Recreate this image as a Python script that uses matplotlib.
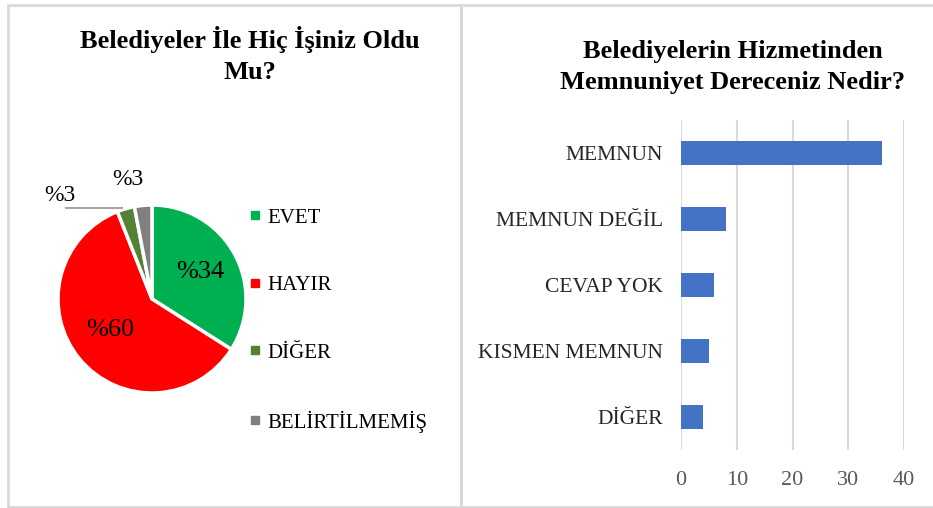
import matplotlib
matplotlib.use("Agg")
import matplotlib.pyplot as plt
from matplotlib.patches import Rectangle
from matplotlib.lines import Line2D

plt.rcParams["font.family"] = ["Liberation Serif", "DejaVu Serif"]

# Pie: "Belediyeler İle Hiç İşiniz Oldu Mu?"
pie_labels = ["EVET", "HAYIR", "DİĞER", "BELİRTİLMEMİŞ"]
pie_values = [34, 60, 3, 3]
pie_colors = ["#00B050", "#FF0000", "#548235", "#808080"]

# Bars: "Belediyelerin Hizmetinden Memnuniyet Dereceniz Nedir?"
bar_categories = ["MEMNUN", "MEMNUN DEĞİL", "CEVAP YOK", "KISMEN MEMNUN", "DİĞER"]
bar_values = [36, 8, 6, 5, 4]
x_ticks = [0, 10, 20, 30, 40]

W, H = 933, 508
fig = plt.figure(figsize=(W / 100, H / 100), dpi=100)


def fx(px):
    return px / W


def fy(py):
    return 1 - py / H


# panel frames
border = "#d9d9d9"
fig.add_artist(Rectangle((fx(8), fy(507)), fx(461) - fx(8), fy(5) - fy(507),
                         transform=fig.transFigure, fill=False, ec=border, lw=2))
fig.add_artist(Rectangle((fx(461), fy(507)), fx(940) - fx(461), fy(5) - fy(507),
                         transform=fig.transFigure, fill=False, ec=border, lw=2))

# ---- pie panel ----
cx, cy, r = 152, 299, 94
ax_pie = fig.add_axes([fx(cx - r), fy(cy + r), 2 * r / W, 2 * r / H])
wedges, _ = ax_pie.pie(pie_values, colors=pie_colors, startangle=90, counterclock=False,
                       wedgeprops=dict(edgecolor="white", linewidth=2.5))
ax_pie.set_xlim(-1, 1)
ax_pie.set_ylim(-1, 1)
ax_pie.set_aspect("equal")
ax_pie.axis("off")

total = sum(pie_values)
pct = [f"%{round(v * 100 / total)}" for v in pie_values]
ax_pie.text(0.51, 0.29, pct[0], ha="center", va="center", fontsize=19, color="black")
ax_pie.text(-0.44, -0.33, pct[1], ha="center", va="center", fontsize=19, color="black")
ax_pie.text(-0.98, 1.10, pct[2], ha="center", va="center", fontsize=17, color="black",
            clip_on=False)
ax_pie.text(-0.26, 1.27, pct[3], ha="center", va="center", fontsize=17, color="black",
            clip_on=False)
ax_pie.plot([-0.92, -0.32], [0.97, 0.97], color="#a6a6a6", lw=1.5, clip_on=False)

handles = [Line2D([], [], marker="s", linestyle="none", markersize=6,
                  markerfacecolor=c, markeredgecolor=c) for c in pie_colors]
fig.legend(handles, pie_labels, loc="upper left", bbox_to_anchor=(fx(249), fy(208)),
           frameon=False, fontsize=15, handlelength=0.6, handletextpad=0.3,
           labelspacing=2.3, borderpad=0, borderaxespad=0)

fig.text(fx(250), fy(55), "Belediyeler İle Hiç İşiniz Oldu\nMu?", ha="center",
         va="center", fontsize=19, fontweight="bold", linespacing=1.4)

# ---- bar panel ----
ax_bar = fig.add_axes([fx(681), fy(450), fx(904) - fx(681), fy(120) - fy(450)])
ypos = list(range(len(bar_categories)))
ax_bar.barh(ypos, bar_values, height=0.35, color="#4472C4", zorder=3)
ax_bar.set_ylim(len(bar_categories) - 0.5, -0.5)
ax_bar.set_xlim(x_ticks[0], x_ticks[-1])
ax_bar.set_xticks(x_ticks)
ax_bar.set_yticks(ypos)
ax_bar.set_yticklabels(bar_categories, fontsize=15.5, color="#262626")
ax_bar.tick_params(axis="x", length=0, pad=15, labelsize=16, labelcolor="#595959")
ax_bar.tick_params(axis="y", length=0, pad=13)
ax_bar.grid(axis="x", color="#d9d9d9", lw=1.5, zorder=0)
for s in ax_bar.spines.values():
    s.set_visible(False)

fig.text(fx(733), fy(67), "Belediyelerin Hizmetinden\nMemnuniyet Dereceniz Nedir?",
         ha="center", va="center", fontsize=19, fontweight="bold", linespacing=1.4)

fig.savefig("out.png", dpi=100, facecolor="white")
